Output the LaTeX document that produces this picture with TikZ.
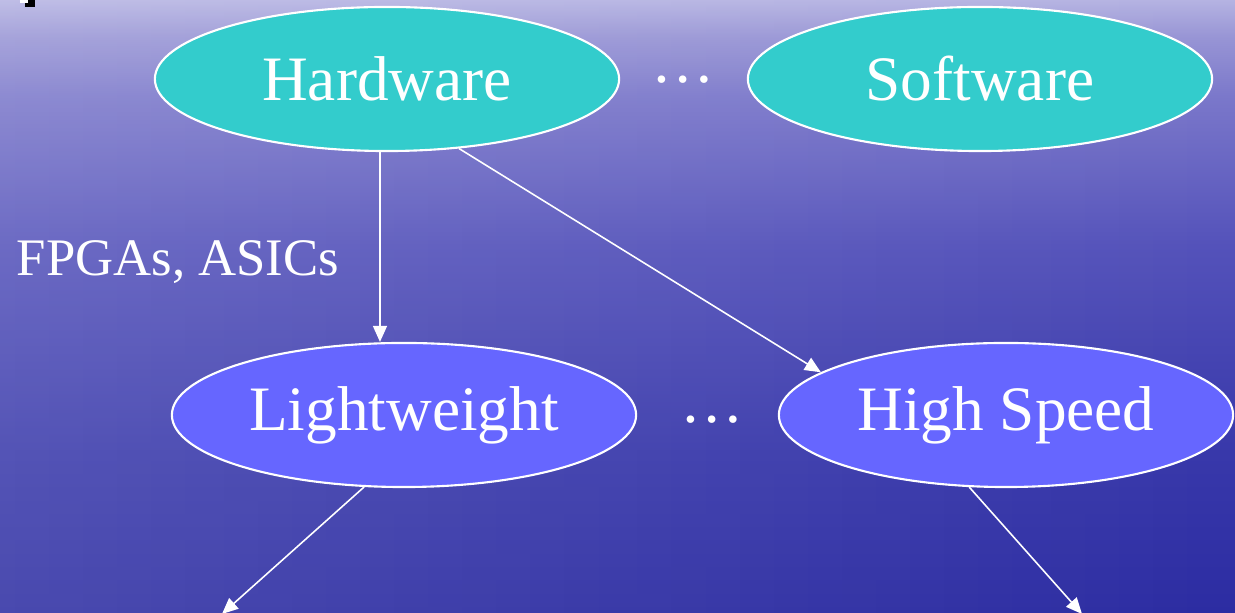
\documentclass[tikz,border=0pt]{standalone}
\usepackage{fontspec}
\setmainfont{Liberation Serif}
\usetikzlibrary{shapes.geometric,arrows.meta,fadings}

\definecolor{hwteal}{HTML}{33CCCC}
\definecolor{algblue}{HTML}{6666FF}

% sea: deep blue at the bottom, pale lavender at the top
\pgfdeclareverticalshading{sea}{100bp}{
  color(0bp)=(rgb,255:red,44;green,44;blue,162);
  color(25bp)=(rgb,255:red,44;green,44;blue,162);
  color(38bp)=(rgb,255:red,56;green,56;blue,170);
  color(55bp)=(rgb,255:red,84;green,82;blue,186);
  color(67bp)=(rgb,255:red,122;green,119;blue,202);
  color(72bp)=(rgb,255:red,152;green,149;blue,213);
  color(75bp)=(rgb,255:red,181;green,179;blue,226);
  color(100bp)=(rgb,255:red,181;green,179;blue,226)}

\tikzset{
  impl/.style={ellipse, draw=white, line width=0.6pt, fill=hwteal, text=white,
    minimum width=4.64cm, minimum height=1.44cm, inner sep=0pt,
    font=\fontsize{18}{20}\selectfont},
  algo/.style={impl, fill=algblue},
  dots/.style={text=white, inner sep=0pt, font=\fontsize{18}{20}\selectfont},
  link/.style={draw=white, line width=0.45pt, -{Triangle[length=1.6mm,width=1.4mm]}}
}

\begin{document}
\begin{tikzpicture}[x=0.01cm, y=-0.01cm]
  \useasboundingbox (0,0) rectangle (1235,613);
  % sea background, lighter towards the left
  \shade[shading=sea] (0,0) rectangle (1235,613);
  \fill[white, opacity=0.14, path fading=east] (0,0) rectangle (1235,613);
  % corner mark
  \fill[black] (25,0) rectangle (35,7);
  \fill[white] (20,0) rectangle (28,3);

  % implementation level
  \node[impl] (hw) at (387,79) {Hardware};
  \node[impl] (sw) at (980,79) {Software};
  \node[dots] (impldots) at (683,80) {\dots};

  % algorithm level
  \node[algo] (lw) at (404,415) {Lightweight};
  \node[algo, minimum width=4.54cm] (hs) at (1006,415) {High Speed};
  \node[dots] (algodots) at (712,420) {\dots};

  \node[text=white, font=\fontsize{15}{17}\selectfont] (fpga) at (178,262) {FPGAs, ASICs};

  \coordinate (lwend) at (222,614);
  \coordinate (hsend) at (1082,614);

  \draw[link] ([xshift=-0.07cm]hw.south) -- ([xshift=-0.24cm]lw.north);
  \draw[link] (hw.-44) -- (hs.167);
  \draw[link] (lw.-119) -- (lwend);
  \draw[link] (hs.-117) -- (hsend);
\end{tikzpicture}
\end{document}
